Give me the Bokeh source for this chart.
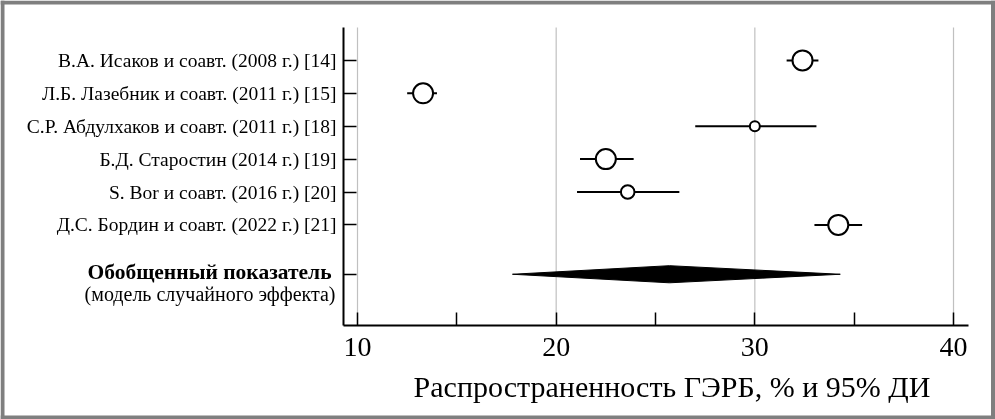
from bokeh.plotting import figure
from bokeh.models import Range1d, FixedTicker, InlineStyleSheet
from bokeh.core.properties import value
from bokeh.embed import file_html
from bokeh.resources import INLINE

# ---- data ----
studies = [
    "В.А. Исаков и соавт. (2008 г.) [14]",
    "Л.Б. Лазебник и соавт. (2011 г.) [15]",
    "С.Р. Абдулхаков и соавт. (2011 г.) [18]",
    "Б.Д. Старостин (2014 г.) [19]",
    "S. Bor и соавт. (2016 г.) [20]",
    "Д.С. Бордин и соавт. (2022 г.) [21]",
]
estimate = [32.4, 13.3, 30.0, 22.5, 23.6, 34.2]
ci_low = [31.6, 12.5, 27.0, 21.2, 21.05, 33.0]
ci_high = [33.2, 14.0, 33.1, 23.9, 26.2, 35.4]
weight = [1.0, 1.0, 0.5, 1.0, 0.68, 1.0]
pooled_low = 17.8
pooled_est = 25.7
pooled_high = 34.3
pooled_title = "Обобщенный показатель"
pooled_sub = "(модель случайного эффекта)"
x_ticks = [10, 15, 20, 25, 30, 35, 40]
x_labels = ["10", "", "20", "", "30", "", "40"]
grid_ticks = [10, 20, 30, 40]
x_title = "Распространенность ГЭРБ, % и 95% ДИ"

FONT = "Liberation Serif"
W, H = 995, 419

# pixel -> data helpers for layout placement (10 at px 357, 19.867 px per unit; row spacing 32.9 px)
def xd(px):
    return 10 + (px - 357) / 19.867

def yd(px):
    return (px - 27) / 32.9

rows = list(range(1, len(studies) + 1))
pooled_row = len(studies) + 1.5

p = figure(width=W, height=H, output_backend="svg", toolbar_location=None,
           x_range=Range1d(xd(0), xd(W)), y_range=Range1d(yd(H), yd(0)),
           min_border=0)
p.stylesheets = [InlineStyleSheet(css=":host { position: fixed !important; left: 0 !important; top: 0 !important; margin: 0 !important; }")]
p.outline_line_color = None
p.background_fill_color = "white"
p.border_fill_color = "white"
p.xgrid.visible = False
p.ygrid.visible = False

# x axis
xa = p.xaxis[0]
xa.fixed_location = yd(325)
xa.bounds = (xd(343), xd(968))
xa.ticker = FixedTicker(ticks=x_ticks)
xa.major_label_overrides = {t: l for t, l in zip(x_ticks, x_labels)}
xa.minor_tick_line_color = None
xa.major_tick_in = 13
xa.major_tick_out = 0
xa.major_tick_line_width = 1.5
xa.axis_line_width = 2
xa.major_label_text_font = FONT
xa.major_label_text_font_size = "28px"
xa.major_label_text_color = "black"
xa.major_label_standoff = 12

# y axis
ya = p.yaxis[0]
ya.fixed_location = xd(343)
ya.bounds = (0, yd(325))
ya.ticker = FixedTicker(ticks=rows + [pooled_row])
ov = {r: s for r, s in zip(rows, studies)}
ov[pooled_row] = ""
ya.major_label_overrides = ov
ya.minor_tick_line_color = None
ya.major_tick_in = 13
ya.major_tick_out = 0
ya.major_tick_line_width = 1.5
ya.axis_line_width = 2
ya.major_label_text_font = FONT
ya.major_label_text_font_size = "19.5px"
ya.major_label_text_color = "black"
ya.major_label_standoff = 7

# frame border (grey)
p.quad(left=[xd(0), xd(0), xd(990.5), xd(0)], right=[xd(4), xd(W), xd(W), xd(W)],
       top=[yd(0), yd(0), yd(0), yd(415)], bottom=[yd(H), yd(4), yd(H), yd(H)],
       fill_color="#7f7f7f", line_color=None)

# vertical grid lines
p.segment(x0=grid_ticks, x1=grid_ticks, y0=[0] * len(grid_ticks), y1=[yd(325)] * len(grid_ticks),
          line_color="#c0c0c0", line_width=1.2)

# study CIs and points
p.segment(x0=ci_low, x1=ci_high, y0=rows, y1=rows, line_color="black", line_width=2)
p.scatter(x=estimate, y=rows, size=[20 * w for w in weight], marker="circle",
          fill_color="white", line_color="black", line_width=2)

# pooled diamond
h = 0.26
p.patch(x=[pooled_low, pooled_est, pooled_high, pooled_est],
        y=[pooled_row, pooled_row - h, pooled_row, pooled_row + h],
        fill_color="black", line_color="black", line_width=1)

# pooled labels
p.text(x=[xd(331)], y=[yd(271)], text=[pooled_title], text_align="right",
       text_baseline="alphabetic", text_font=value(FONT), text_font_style="bold",
       text_font_size="21.5px", text_color="black")
p.text(x=[xd(335)], y=[yd(293)], text=[pooled_sub], text_align="right",
       text_baseline="alphabetic", text_font=value(FONT),
       text_font_size="20px", text_color="black")

# x title
p.text(x=[xd(671.5)], y=[yd(386)], text=[x_title], text_align="center",
       text_baseline="alphabetic", text_font=value(FONT),
       text_font_size="30px", text_color="black")

open("out.html", "w").write(file_html(p, INLINE))
